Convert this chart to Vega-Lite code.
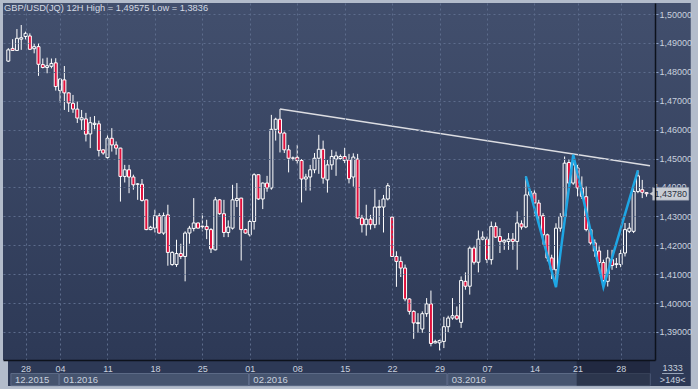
{
  "$schema": "https://vega.github.io/schema/vega-lite/v6.json",
  "width": 652,
  "height": 357,
  "autosize": {"type": "none"},
  "padding": {"left": 3, "top": 3, "right": 43, "bottom": 29},
  "background": "#b3bccb",
  "config": {
    "font": "Liberation Sans",
    "view": {
      "stroke": null,
      "fill": {"gradient": "linear", "x1": 0, "y1": 0, "x2": 0, "y2": 1,
        "stops": [{"offset": 0, "color": "#424f6d"}, {"offset": 1, "color": "#2d3956"}]}
    },
    "axis": {
      "gridColor": "#5d6c8c",
      "gridDash": [2, 3],
      "gridWidth": 1,
      "domainColor": "#0d121c",
      "domainWidth": 1.5,
      "labelColor": "#c9d1de",
      "labelFont": "Liberation Sans",
      "labelFontSize": 9,
      "labelOverlap": false,
      "labelFlush": false,
      "title": null
    }
  },
  "title": {
    "text": "GBP/USD(JQ) 12H High = 1,49575 Low = 1,3836",
    "anchor": "start",
    "frame": "group",
    "offset": -10,
    "dx": 1,
    "fontSize": 9.3,
    "fontWeight": "normal",
    "font": "Liberation Sans",
    "color": "#d4dae4"
  },
  "datasets": {
    "candles": [
      {"i":0,"o":1.4837,"h":1.4882,"l":1.4834,"c":1.4876},
      {"i":1,"o":1.4881,"h":1.4913,"l":1.4872,"c":1.4874},
      {"i":2,"o":1.4874,"h":1.4948,"l":1.4872,"c":1.4916},
      {"i":3,"o":1.4913,"h":1.4962,"l":1.4876,"c":1.4918},
      {"i":4,"o":1.4922,"h":1.4939,"l":1.4912,"c":1.4933},
      {"i":5,"o":1.4924,"h":1.4933,"l":1.4876,"c":1.4878},
      {"i":6,"o":1.4880,"h":1.4899,"l":1.4864,"c":1.4887},
      {"i":7,"o":1.4887,"h":1.4899,"l":1.4786,"c":1.4826},
      {"i":8,"o":1.4825,"h":1.4846,"l":1.4812,"c":1.4815},
      {"i":9,"o":1.4815,"h":1.4849,"l":1.4795,"c":1.4821},
      {"i":10,"o":1.4819,"h":1.4846,"l":1.4812,"c":1.4829},
      {"i":11,"o":1.4831,"h":1.4847,"l":1.4735,"c":1.4749},
      {"i":12,"o":1.4735,"h":1.4778,"l":1.4694,"c":1.4775},
      {"i":13,"o":1.4772,"h":1.4820,"l":1.4668,"c":1.4727},
      {"i":14,"o":1.4727,"h":1.4729,"l":1.4661,"c":1.4692},
      {"i":15,"o":1.4691,"h":1.4720,"l":1.4658,"c":1.4671},
      {"i":16,"o":1.4671,"h":1.4697,"l":1.4623,"c":1.4640},
      {"i":17,"o":1.4634,"h":1.4668,"l":1.4599,"c":1.4641},
      {"i":18,"o":1.4637,"h":1.4658,"l":1.4559,"c":1.4584},
      {"i":19,"o":1.4585,"h":1.4644,"l":1.4536,"c":1.4624},
      {"i":20,"o":1.4618,"h":1.4647,"l":1.4601,"c":1.4622},
      {"i":21,"o":1.4620,"h":1.4631,"l":1.4507,"c":1.4528},
      {"i":22,"o":1.4530,"h":1.4532,"l":1.4513,"c":1.4519},
      {"i":23,"o":1.4503,"h":1.4585,"l":1.4495,"c":1.4570},
      {"i":24,"o":1.4570,"h":1.4605,"l":1.4524,"c":1.4547},
      {"i":25,"o":1.4547,"h":1.4559,"l":1.4513,"c":1.4536},
      {"i":26,"o":1.4536,"h":1.4537,"l":1.4351,"c":1.4438},
      {"i":27,"o":1.4438,"h":1.4478,"l":1.4417,"c":1.4461},
      {"i":28,"o":1.4461,"h":1.4478,"l":1.4380,"c":1.4436},
      {"i":29,"o":1.4436,"h":1.4444,"l":1.4392,"c":1.4409},
      {"i":30,"o":1.4411,"h":1.4415,"l":1.4357,"c":1.4412},
      {"i":31,"o":1.4411,"h":1.4429,"l":1.4351,"c":1.4355},
      {"i":32,"o":1.4357,"h":1.4357,"l":1.4252,"c":1.4254},
      {"i":33,"o":1.4254,"h":1.4267,"l":1.4252,"c":1.4262},
      {"i":34,"o":1.4259,"h":1.4323,"l":1.4244,"c":1.4302},
      {"i":35,"o":1.4302,"h":1.4311,"l":1.4240,"c":1.4242},
      {"i":36,"o":1.4242,"h":1.4313,"l":1.4236,"c":1.4302},
      {"i":37,"o":1.4305,"h":1.4340,"l":1.4129,"c":1.4175},
      {"i":38,"o":1.4133,"h":1.4179,"l":1.4129,"c":1.4175},
      {"i":39,"o":1.4133,"h":1.4219,"l":1.4125,"c":1.4171},
      {"i":40,"o":1.4171,"h":1.4205,"l":1.4152,"c":1.4161},
      {"i":41,"o":1.4161,"h":1.4248,"l":1.4075,"c":1.4242},
      {"i":42,"o":1.4242,"h":1.4267,"l":1.4205,"c":1.4259},
      {"i":43,"o":1.4258,"h":1.4363,"l":1.4248,"c":1.4277},
      {"i":44,"o":1.4277,"h":1.4278,"l":1.4259,"c":1.4259},
      {"i":45,"o":1.4266,"h":1.4311,"l":1.4248,"c":1.4264},
      {"i":46,"o":1.4265,"h":1.4288,"l":1.4221,"c":1.4254},
      {"i":47,"o":1.4254,"h":1.4259,"l":1.4173,"c":1.4187},
      {"i":48,"o":1.4184,"h":1.4367,"l":1.4182,"c":1.4357},
      {"i":49,"o":1.4357,"h":1.4360,"l":1.4305,"c":1.4309},
      {"i":50,"o":1.4309,"h":1.4357,"l":1.4228,"c":1.4244},
      {"i":51,"o":1.4244,"h":1.4286,"l":1.4228,"c":1.4263},
      {"i":52,"o":1.4259,"h":1.4409,"l":1.4254,"c":1.4357},
      {"i":53,"o":1.4355,"h":1.4415,"l":1.4332,"c":1.4362},
      {"i":54,"o":1.4363,"h":1.4364,"l":1.4147,"c":1.4254},
      {"i":55,"o":1.4254,"h":1.4257,"l":1.4240,"c":1.4242},
      {"i":56,"o":1.4236,"h":1.4288,"l":1.4230,"c":1.4282},
      {"i":57,"o":1.4282,"h":1.4449,"l":1.4254,"c":1.4444},
      {"i":58,"o":1.4444,"h":1.4444,"l":1.4357,"c":1.4360},
      {"i":59,"o":1.4360,"h":1.4417,"l":1.4325,"c":1.4415},
      {"i":60,"o":1.4415,"h":1.4440,"l":1.4385,"c":1.4398},
      {"i":61,"o":1.4398,"h":1.4651,"l":1.4392,"c":1.4601},
      {"i":62,"o":1.4601,"h":1.4641,"l":1.4562,"c":1.4636},
      {"i":63,"o":1.4636,"h":1.4671,"l":1.4521,"c":1.4588},
      {"i":64,"o":1.4588,"h":1.4593,"l":1.4519,"c":1.4530},
      {"i":65,"o":1.4530,"h":1.4547,"l":1.4452,"c":1.4501},
      {"i":66,"o":1.4502,"h":1.4507,"l":1.4493,"c":1.4501},
      {"i":67,"o":1.4504,"h":1.4547,"l":1.4482,"c":1.4493},
      {"i":68,"o":1.4493,"h":1.4498,"l":1.4348,"c":1.4429},
      {"i":69,"o":1.4429,"h":1.4447,"l":1.4389,"c":1.4436},
      {"i":70,"o":1.4436,"h":1.4478,"l":1.4389,"c":1.4461},
      {"i":71,"o":1.4461,"h":1.4519,"l":1.4449,"c":1.4501},
      {"i":72,"o":1.4501,"h":1.4582,"l":1.4447,"c":1.4532},
      {"i":73,"o":1.4532,"h":1.4562,"l":1.4413,"c":1.4432},
      {"i":74,"o":1.4426,"h":1.4495,"l":1.4382,"c":1.4478},
      {"i":75,"o":1.4478,"h":1.4530,"l":1.4461,"c":1.4507},
      {"i":76,"o":1.4498,"h":1.4524,"l":1.4440,"c":1.4509},
      {"i":77,"o":1.4500,"h":1.4514,"l":1.4495,"c":1.4507},
      {"i":78,"o":1.4507,"h":1.4537,"l":1.4484,"c":1.4493},
      {"i":79,"o":1.4495,"h":1.4516,"l":1.4414,"c":1.4430},
      {"i":80,"o":1.4436,"h":1.4518,"l":1.4403,"c":1.4505},
      {"i":81,"o":1.4498,"h":1.4516,"l":1.4292,"c":1.4294},
      {"i":82,"o":1.4294,"h":1.4305,"l":1.4244,"c":1.4271},
      {"i":83,"o":1.4271,"h":1.4340,"l":1.4233,"c":1.4290},
      {"i":84,"o":1.4290,"h":1.4305,"l":1.4254,"c":1.4271},
      {"i":85,"o":1.4271,"h":1.4394,"l":1.4259,"c":1.4332},
      {"i":86,"o":1.4331,"h":1.4357,"l":1.4271,"c":1.4333},
      {"i":87,"o":1.4332,"h":1.4374,"l":1.4244,"c":1.4360},
      {"i":88,"o":1.4360,"h":1.4415,"l":1.4355,"c":1.4406},
      {"i":89,"o":1.4297,"h":1.4299,"l":1.4160,"c":1.4161},
      {"i":90,"o":1.4161,"h":1.4179,"l":1.4056,"c":1.4144},
      {"i":91,"o":1.4144,"h":1.4161,"l":1.4090,"c":1.4121},
      {"i":92,"o":1.4121,"h":1.4133,"l":1.4006,"c":1.4014},
      {"i":93,"o":1.4014,"h":1.4017,"l":1.3960,"c":1.3971},
      {"i":94,"o":1.3971,"h":1.3975,"l":1.3876,"c":1.3931},
      {"i":95,"o":1.3929,"h":1.3965,"l":1.3897,"c":1.3932},
      {"i":96,"o":1.3910,"h":1.3971,"l":1.3897,"c":1.3963},
      {"i":97,"o":1.3963,"h":1.4017,"l":1.3952,"c":1.3997},
      {"i":98,"o":1.3997,"h":1.4043,"l":1.3850,"c":1.3860},
      {"i":99,"o":1.3862,"h":1.3873,"l":1.3860,"c":1.3867},
      {"i":100,"o":1.3862,"h":1.3873,"l":1.3836,"c":1.3870},
      {"i":101,"o":1.3867,"h":1.3952,"l":1.3844,"c":1.3918},
      {"i":102,"o":1.3918,"h":1.3956,"l":1.3899,"c":1.3948},
      {"i":103,"o":1.3948,"h":1.4017,"l":1.3942,"c":1.3956},
      {"i":104,"o":1.3956,"h":1.3988,"l":1.3942,"c":1.3945},
      {"i":105,"o":1.3933,"h":1.4092,"l":1.3914,"c":1.4078},
      {"i":106,"o":1.4075,"h":1.4106,"l":1.4046,"c":1.4058},
      {"i":107,"o":1.4058,"h":1.4196,"l":1.4029,"c":1.4190},
      {"i":108,"o":1.4190,"h":1.4196,"l":1.4133,"c":1.4141},
      {"i":109,"o":1.4141,"h":1.4251,"l":1.4106,"c":1.4221},
      {"i":110,"o":1.4221,"h":1.4248,"l":1.4217,"c":1.4228},
      {"i":111,"o":1.4221,"h":1.4230,"l":1.4138,"c":1.4150},
      {"i":112,"o":1.4150,"h":1.4282,"l":1.4133,"c":1.4265},
      {"i":113,"o":1.4265,"h":1.4279,"l":1.4225,"c":1.4228},
      {"i":114,"o":1.4230,"h":1.4259,"l":1.4173,"c":1.4213},
      {"i":115,"o":1.4211,"h":1.4221,"l":1.4184,"c":1.4217},
      {"i":116,"o":1.4213,"h":1.4242,"l":1.4184,"c":1.4221},
      {"i":117,"o":1.4221,"h":1.4242,"l":1.4184,"c":1.4213},
      {"i":118,"o":1.4213,"h":1.4317,"l":1.4115,"c":1.4277},
      {"i":119,"o":1.4274,"h":1.4286,"l":1.4254,"c":1.4263},
      {"i":120,"o":1.4263,"h":1.4438,"l":1.4259,"c":1.4374},
      {"i":121,"o":1.4374,"h":1.4392,"l":1.4369,"c":1.4386},
      {"i":122,"o":1.4380,"h":1.4392,"l":1.4300,"c":1.4346},
      {"i":123,"o":1.4346,"h":1.4357,"l":1.4271,"c":1.4300},
      {"i":124,"o":1.4302,"h":1.4311,"l":1.4202,"c":1.4236},
      {"i":125,"o":1.4236,"h":1.4240,"l":1.4144,"c":1.4156},
      {"i":126,"o":1.4156,"h":1.4167,"l":1.4083,"c":1.4115},
      {"i":127,"o":1.4115,"h":1.4276,"l":1.4055,"c":1.4259},
      {"i":128,"o":1.4259,"h":1.4311,"l":1.4247,"c":1.4299},
      {"i":129,"o":1.4299,"h":1.4507,"l":1.4288,"c":1.4484},
      {"i":130,"o":1.4486,"h":1.4498,"l":1.4392,"c":1.4415},
      {"i":131,"o":1.4415,"h":1.4513,"l":1.4409,"c":1.4478},
      {"i":132,"o":1.4467,"h":1.4478,"l":1.4369,"c":1.4398},
      {"i":133,"o":1.4398,"h":1.4438,"l":1.4360,"c":1.4369},
      {"i":134,"o":1.4368,"h":1.4403,"l":1.4248,"c":1.4254},
      {"i":135,"o":1.4254,"h":1.4258,"l":1.4202,"c":1.4208},
      {"i":136,"o":1.4208,"h":1.4220,"l":1.4160,"c":1.4180},
      {"i":137,"o":1.4180,"h":1.4196,"l":1.4130,"c":1.4140},
      {"i":138,"o":1.4140,"h":1.4150,"l":1.4055,"c":1.4078},
      {"i":139,"o":1.4075,"h":1.4184,"l":1.4057,"c":1.4156},
      {"i":140,"o":1.4150,"h":1.4184,"l":1.4115,"c":1.4130},
      {"i":141,"o":1.4133,"h":1.4156,"l":1.4121,"c":1.4136},
      {"i":142,"o":1.4133,"h":1.4184,"l":1.4124,"c":1.4171},
      {"i":143,"o":1.4173,"h":1.4277,"l":1.4161,"c":1.4254},
      {"i":144,"o":1.4248,"h":1.4277,"l":1.4242,"c":1.4259},
      {"i":145,"o":1.4248,"h":1.4398,"l":1.4242,"c":1.4386},
      {"i":146,"o":1.4386,"h":1.4459,"l":1.4380,"c":1.4440},
      {"i":147,"o":1.4392,"h":1.4426,"l":1.4363,"c":1.4383},
      {"i":148,"o":1.4382,"h":1.4383,"l":1.4368,"c":1.4378}
    ],
    "trend": [{"i": 63, "p": 1.4671}, {"i": 148.8, "p": 1.4475}],
    "zigzag": [
      {"i": 120, "p": 1.4438}, {"i": 127, "p": 1.4055}, {"i": 131, "p": 1.4513},
      {"i": 138, "p": 1.4055}, {"i": 146, "p": 1.4459}
    ],
    "months": [
      {"m": "12.2015", "s": 0.6, "e": 11.7},
      {"m": "01.2016", "s": 11.9, "e": 55.7},
      {"m": "02.2016", "s": 55.9, "e": 101.7},
      {"m": "03.2016", "s": 101.9, "e": 148.8}
    ]
  },
  "layer": [
    {
      "data": {"values": [{}]},
      "mark": {"type": "rect", "color": {"gradient": "linear", "x1": 0, "y1": 0, "x2": 0, "y2": 1,
        "stops": [{"offset": 0, "color": "#424f6d"}, {"offset": 1, "color": "#2d3956"}]}},
      "encoding": {
        "x": {"datum": 148.8, "type": "quantitative"},
        "x2": {"datum": 158.25},
        "y": {"datum": 1.50381, "type": "quantitative"},
        "y2": {"datum": 1.38028}
      }
    },
    {
      "data": {"values": [{}]},
      "mark": {"type": "rect", "color": "#2d3956"},
      "encoding": {
        "x": {"datum": -0.07, "type": "quantitative"},
        "x2": {"datum": 158.25},
        "y": {"datum": 1.38028, "type": "quantitative"},
        "y2": {"datum": 1.37128}
      }
    },
    {
      "data": {"name": "candles"},
      "mark": {"type": "rule", "color": "#ffffff", "strokeWidth": 1},
      "encoding": {
        "x": {
          "field": "i", "type": "quantitative",
          "scale": {"domain": [-0.07, 148.8], "nice": false, "zero": false},
          "axis": {
            "values": [4, 12, 23, 34, 45, 56, 67, 78, 89, 100, 111, 122, 132, 142],
            "labelExpr": "['28','04','11','18','25','01','08','15','22','29','07','14','21','28'][indexof([4,12,23,34,45,56,67,78,89,100,111,122,132,142], datum.value)]",
            "tickCount": 30,
            "grid": true,
            "ticks": false,
            "labelPadding": 4,
            "labelFlush": false,
            "labelOverlap": false,
            "zindex": 1
          }
        },
        "y": {
          "field": "l", "type": "quantitative",
          "scale": {"domain": [1.38028, 1.50381], "nice": false, "zero": false},
          "axis": {
            "orient": "right",
            "values": [1.39, 1.40, 1.41, 1.42, 1.43, 1.44, 1.45, 1.46, 1.47, 1.48, 1.49, 1.50],
            "labelExpr": "abs(datum.value - 1.44) < 0.0001 ? '' : replace(format(datum.value, '.5f'), '.', ',')",
            "tickCount": 30,
            "grid": true,
            "tickSize": 3,
            "tickColor": "#8aa0c8",
            "labelPadding": 1,
            "labelFlush": false,
            "labelOverlap": false,
            "zindex": 1
          }
        },
        "y2": {"field": "h"}
      }
    },
    {
      "data": {"name": "candles"},
      "mark": {"type": "bar", "width": 3, "stroke": "#ffffff", "strokeWidth": 1},
      "encoding": {
        "x": {"field": "i", "type": "quantitative"},
        "y": {"field": "o", "type": "quantitative"},
        "y2": {"field": "c"},
        "fill": {
          "condition": {"test": "datum.c < datum.o", "value": "#e0103c"},
          "field": "c", "type": "quantitative",
          "scale": {"domain": [1.38028, 1.50381], "range": ["#2d3956", "#424f6d"]},
          "legend": null
        }
      }
    },
    {
      "data": {"name": "trend"},
      "mark": {"type": "line", "color": "#dcdde2", "strokeWidth": 1.5},
      "encoding": {
        "x": {"field": "i", "type": "quantitative"},
        "y": {"field": "p", "type": "quantitative"}
      }
    },
    {
      "data": {"name": "zigzag"},
      "mark": {"type": "line", "color": "#1ea6e4", "strokeWidth": 2.5},
      "encoding": {
        "x": {"field": "i", "type": "quantitative"},
        "y": {"field": "p", "type": "quantitative"}
      }
    },
    {
      "data": {"name": "months"},
      "mark": {"type": "rect", "fill": "#46546f", "stroke": "#5d6b88", "strokeWidth": 1},
      "encoding": {
        "x": {"field": "s", "type": "quantitative"},
        "x2": {"field": "e"},
        "y": {"datum": 1.3756, "type": "quantitative"},
        "y2": {"datum": 1.3714}
      }
    },
    {
      "data": {"name": "months"},
      "mark": {"type": "text", "align": "left", "baseline": "middle", "dx": 4, "fontSize": 9.5, "color": "#c9d1de", "font": "Liberation Sans"},
      "encoding": {
        "x": {"field": "s", "type": "quantitative"},
        "y": {"datum": 1.37345, "type": "quantitative"},
        "text": {"field": "m"}
      }
    },
    {
      "data": {"values": [{}]},
      "mark": {"type": "rect", "fill": "#171e31", "opacity": 0.55},
      "encoding": {
        "x": {"datum": 131.8, "type": "quantitative"},
        "x2": {"datum": 148.8},
        "y": {"datum": 1.37995, "type": "quantitative"},
        "y2": {"datum": 1.37134}
      }
    },
    {
      "data": {"values": [{"t": "1,44000"}]},
      "mark": {"type": "text", "align": "left", "baseline": "middle", "fontSize": 9, "color": "#c9d1de", "font": "Liberation Sans"},
      "encoding": {
        "x": {"datum": 149.71, "type": "quantitative"},
        "y": {"datum": 1.44, "type": "quantitative"},
        "text": {"field": "t"}
      }
    },
    {
      "data": {"values": [{}]},
      "mark": {"type": "rect", "fill": "#c8ccd3", "stroke": "#9aa3b0", "strokeWidth": 0.5},
      "encoding": {
        "x": {"datum": 149.4, "type": "quantitative"},
        "x2": {"datum": 157.8},
        "y": {"datum": 1.4400, "type": "quantitative"},
        "y2": {"datum": 1.4356}
      }
    },
    {
      "data": {"values": [{}]},
      "mark": {"type": "point", "shape": "triangle-left", "filled": true, "size": 30, "color": "#c8ccd3", "opacity": 1},
      "encoding": {
        "x": {"datum": 149.2, "type": "quantitative"},
        "y": {"datum": 1.4378, "type": "quantitative"}
      }
    },
    {
      "data": {"values": [{"t": "1,43780"}]},
      "mark": {"type": "text", "align": "center", "baseline": "middle", "fontSize": 9, "color": "#2a3142", "font": "Liberation Sans"},
      "encoding": {
        "x": {"datum": 153.6, "type": "quantitative"},
        "y": {"datum": 1.4378, "type": "quantitative"},
        "text": {"field": "t"}
      }
    },
    {
      "data": {"values": [{"t": "1333", "p": 1.37766}, {"t": ">149<", "p": 1.37334}]},
      "mark": {"type": "text", "align": "center", "baseline": "middle", "fontSize": 9, "color": "#c9d1de", "font": "Liberation Sans"},
      "encoding": {
        "x": {"datum": 154.05, "type": "quantitative"},
        "y": {"field": "p", "type": "quantitative"},
        "text": {"field": "t"}
      }
    },
    {
      "data": {"values": [{}]},
      "mark": {"type": "rule", "color": "#9aa6ba", "strokeWidth": 1},
      "encoding": {
        "x": {"datum": 151.6, "type": "quantitative"},
        "x2": {"datum": 156.6},
        "y": {"datum": 1.3756, "type": "quantitative"}
      }
    }
  ]
}
